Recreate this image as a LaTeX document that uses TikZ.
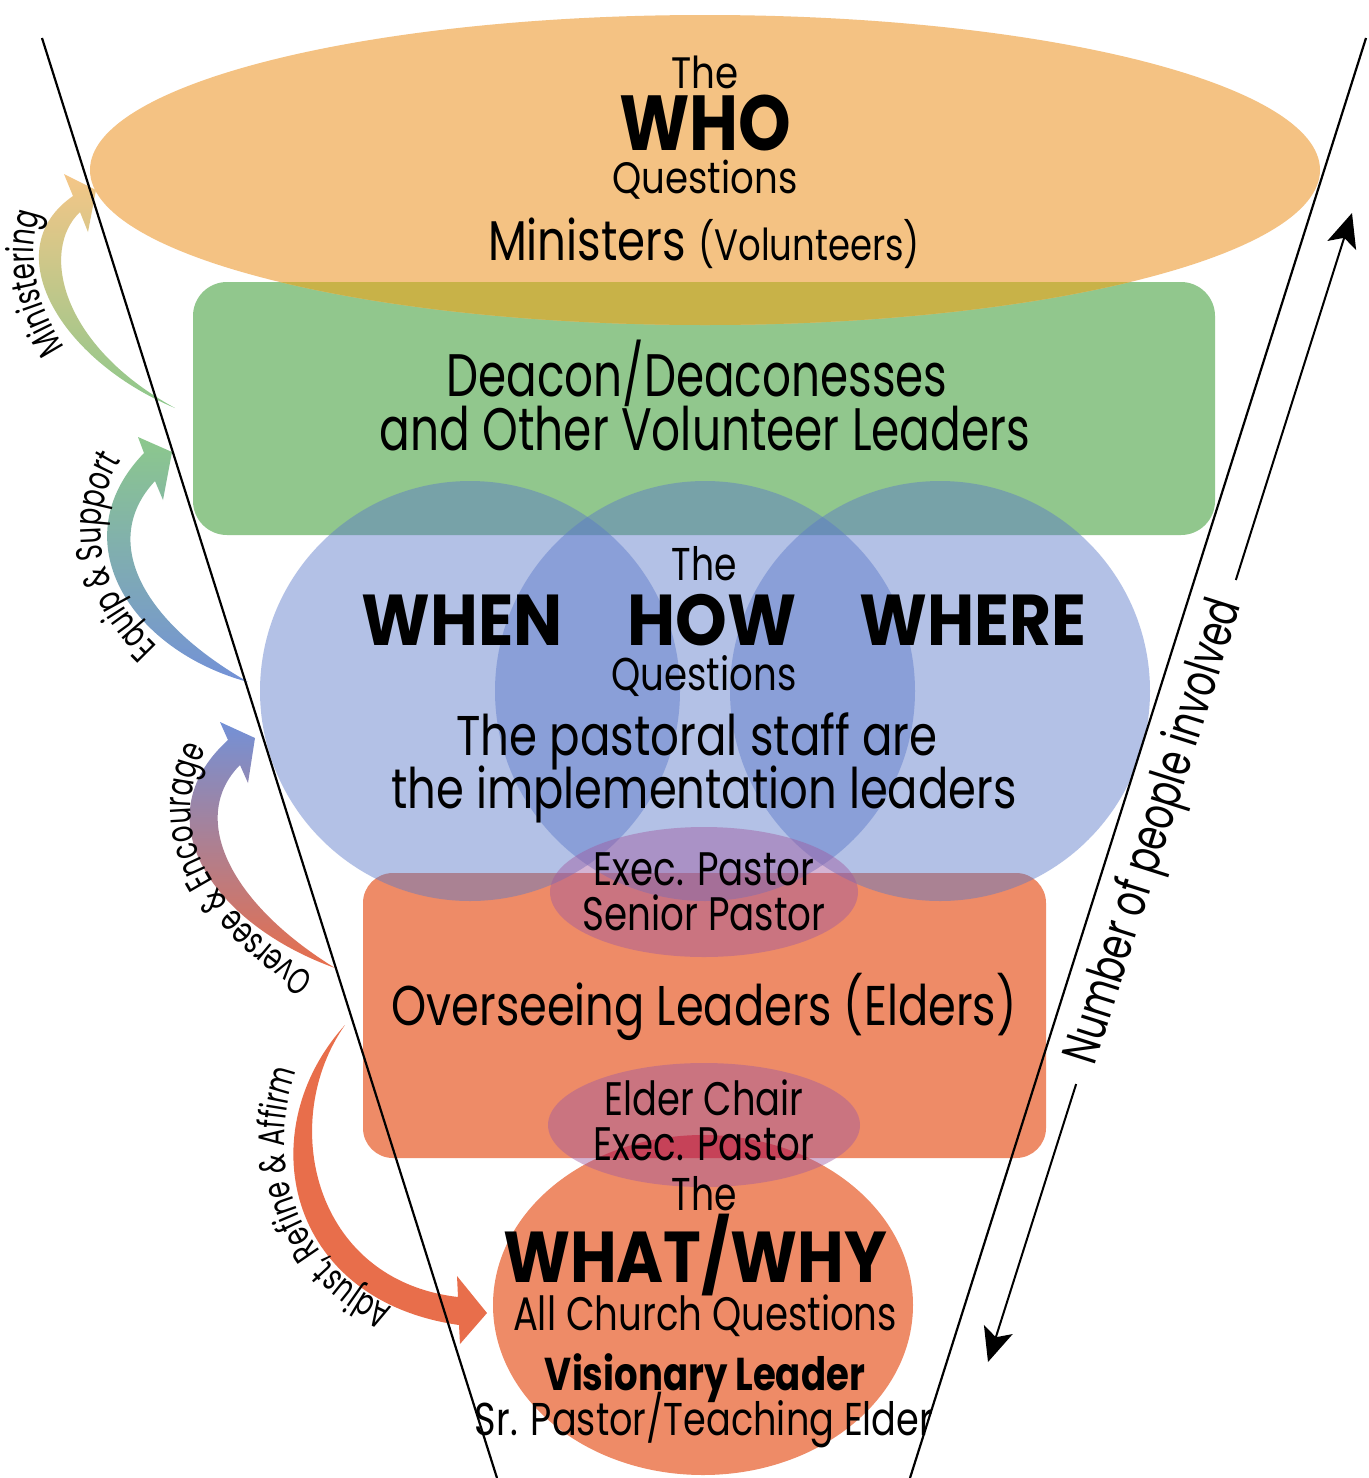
\documentclass[tikz,border=0pt]{standalone}
\usepackage{graphicx}
\usepackage{fontspec}
\setmainfont{Poppins}
\newfontfamily\narrowfam{Poppins}[FakeStretch=0.7]
\usetikzlibrary{arrows.meta,decorations.text}
\definecolor{whoC}{RGB}{244,194,131}
\definecolor{goldC}{RGB}{200,178,72}
\definecolor{greenC}{RGB}{145,199,141}
\definecolor{blueC}{RGB}{90,120,201}
\definecolor{orC}{RGB}{238,139,103}
\definecolor{mauveC}{RGB}{160,90,160}
\definecolor{crimC}{RGB}{198,66,88}
\definecolor{peachA}{RGB}{245,198,135}
\definecolor{greenA}{RGB}{140,200,140}
\definecolor{blueA}{RGB}{115,145,215}
\definecolor{orA}{RGB}{232,110,75}
\newcommand\lbl[3]{{\fontsize{#1}{#1}\selectfont\resizebox{#2}{\height}{#3}}}
\newcommand\arcfont{\narrowfam\fontsize{18.5pt}{18.5pt}\selectfont}
\begin{document}
\begin{tikzpicture}[x=0.5pt,y=-0.5pt,
  txt/.style={inner sep=0pt, anchor=base},
  funnel/.style={line width=1.1pt, black},
  rarrow/.style={line width=1pt, black, -{Stealth[length=17pt,width=15pt,inset=4pt]}},
  arctext/.style={decorate, decoration={text along path, text align=center, text={#1}}}]
\useasboundingbox (0,0) rectangle (1369,1478);
\fill[white] (0,0) rectangle (1369,1478);

% green box
\fill[greenC, rounded corners=17pt] (193,282) rectangle (1215,535);
% orange box
\fill[orC, rounded corners=15pt] (363,873) rectangle (1046,1158);
% WHO ellipse
\fill[whoC] (705,170) ellipse [x radius=615, y radius=155];
\begin{scope}
  \clip (705,170) ellipse [x radius=615, y radius=155];
  \fill[goldC, rounded corners=17pt] (193,282) rectangle (1215,535);
\end{scope}
% blue circles
\fill[blueC, fill opacity=0.46] (470,691) circle [radius=210];
\fill[blueC, fill opacity=0.46] (705,691) circle [radius=210];
\fill[blueC, fill opacity=0.46] (940,691) circle [radius=210];
% bottom circle
\fill[orC] (703,1305) ellipse [x radius=210, y radius=170];
% small ellipses
\fill[mauveC, fill opacity=0.45] (704,892) ellipse [x radius=154, y radius=65];
\fill[mauveC, fill opacity=0.45] (704,1125) ellipse [x radius=156, y radius=62];
\begin{scope}
  \clip[rounded corners=15pt] (363,873) rectangle (1046,1158);
  \clip (703,1305) ellipse [x radius=210, y radius=170];
  \fill[crimC] (704,1125) ellipse [x radius=156, y radius=62];
\end{scope}

% curved arrows on the left
\shade[top color=peachA, bottom color=greenA]
  (175,408) .. controls (60,360) and (-5,250) .. (73,196) -- (64,174) -- (96,190) -- (88,232) -- (80,212)
  .. controls (40,250) and (60,345) .. (175,408) -- cycle;
\shade[top color=greenA, bottom color=blueA]
  (248,682) .. controls (130,650) and (60,540) .. (144,453) -- (138,437) -- (172,452) -- (163,500) -- (155,481)
  .. controls (100,540) and (140,620) .. (248,682) -- cycle;
\shade[top color=blueA, bottom color=orA]
  (335,968) .. controls (215,925) and (140,820) .. (228,740) -- (220,722) -- (255,738) -- (248,783) -- (240,765)
  .. controls (190,815) and (225,900) .. (335,968) -- cycle;
\fill[orA]
  (345,1025) .. controls (250,1130) and (285,1300) .. (459,1325) -- (460,1344) -- (487,1313) -- (457,1276) -- (458,1297)
  .. controls (312,1280) and (278,1120) .. (345,1025) -- cycle;

% arc labels
\path[arctext={|\arcfont|Ministering}] (80,368) .. controls (40,320) and (15,250) .. (52,190);
\path[arctext={|\arcfont|Equip {\&} Support}] (178,664) .. controls (95,600) and (75,510) .. (137,438);
\path[arctext={|\arcfont|Oversee {\&} Encourage}] (333,988) .. controls (220,920) and (150,830) .. (217,730);
\path[arctext={|\arcfont|Adjust, Refine {\&} Affirm}] (432,1320) .. controls (298,1292) and (246,1150) .. (314,1034);

% funnel lines
\coordinate (fl1) at (42,38);
\coordinate (fl2) at (497,1478);
\coordinate (fr1) at (1366,38);
\coordinate (fr2) at (910,1478);
\draw[funnel] (fl1) -- (fl2);
\draw[funnel] (fr1) -- (fr2);

% right arrow with label
\coordinate (bt) at (988,1362);
\coordinate (tt) at (1352,213);
\node[rotate=72.42, inner ysep=0pt, inner xsep=11pt] (nlab) at (1156,832)
  {\lbl{25pt}{242pt}{Number of people involved}};
\draw[rarrow] (nlab.west) -- (bt);
\draw[rarrow] (nlab.east) -- (tt);

% texts
\node[txt] (who1) at (705,88) {\lbl{22pt}{33.5pt}{The}};
\node[txt] (who2) at (705,150) {\lbl{39pt}{86pt}{\bfseries WHO}};
\node[txt] (who3) at (705,193) {\lbl{22pt}{92.5pt}{Questions}};
\node[txt] (who4) at (704,260) {\lbl{28pt}{216pt}{Ministers {\fontsize{22pt}{22pt}\selectfont(Volunteers)}}};
\node[txt] (dea1) at (697,396) {\lbl{30pt}{250.5pt}{Deacon/Deaconesses}};
\node[txt] (dea2) at (705,450) {\lbl{30pt}{325pt}{and Other Volunteer Leaders}};
\node[txt] (q1) at (704,580) {\lbl{23pt}{32.5pt}{The}};
\node[txt] (q2) at (462,645) {\lbl{36pt}{100.5pt}{\bfseries WHEN}};
\node[txt] (q3) at (712,645) {\lbl{36pt}{84.5pt}{\bfseries HOW}};
\node[txt] (q4) at (973,645) {\lbl{36pt}{113.5pt}{\bfseries WHERE}};
\node[txt] (q5) at (704,690) {\lbl{23pt}{92.5pt}{Questions}};
\node[txt] (p1) at (697,755) {\lbl{28pt}{240.5pt}{The pastoral staff are}};
\node[txt] (p2) at (704,808) {\lbl{28pt}{312.5pt}{the implementation leaders}};
\node[txt] (e1) at (704,885) {\lbl{23.5pt}{110.5pt}{Exec. Pastor}};
\node[txt] (e2) at (704,930) {\lbl{23.5pt}{121.5pt}{Senior Pastor}};
\node[txt] (o1) at (704,1025) {\lbl{28pt}{312.5pt}{Overseeing Leaders (Elders)}};
\node[txt] (c1) at (704,1115) {\lbl{23.5pt}{99.5pt}{Elder Chair}};
\node[txt] (c2) at (704,1160) {\lbl{23.5pt}{110.5pt}{Exec. Pastor}};
\node[txt] (w1) at (704,1210) {\lbl{23pt}{32.5pt}{The}};
\node[txt] (w2) at (695,1282) {\lbl{36pt}{192pt}{\bfseries WHAT/WHY}};
\node[txt] (w3) at (705,1330) {\lbl{23.5pt}{192pt}{All Church Questions}};
\node[txt] (w4) at (705,1390) {\lbl{23pt}{160pt}{\bfseries Visionary Leader}};
\node[txt] (w5) at (704,1435) {\lbl{23pt}{229pt}{Sr. Pastor/Teaching Elder}};
\end{tikzpicture}
\end{document}
